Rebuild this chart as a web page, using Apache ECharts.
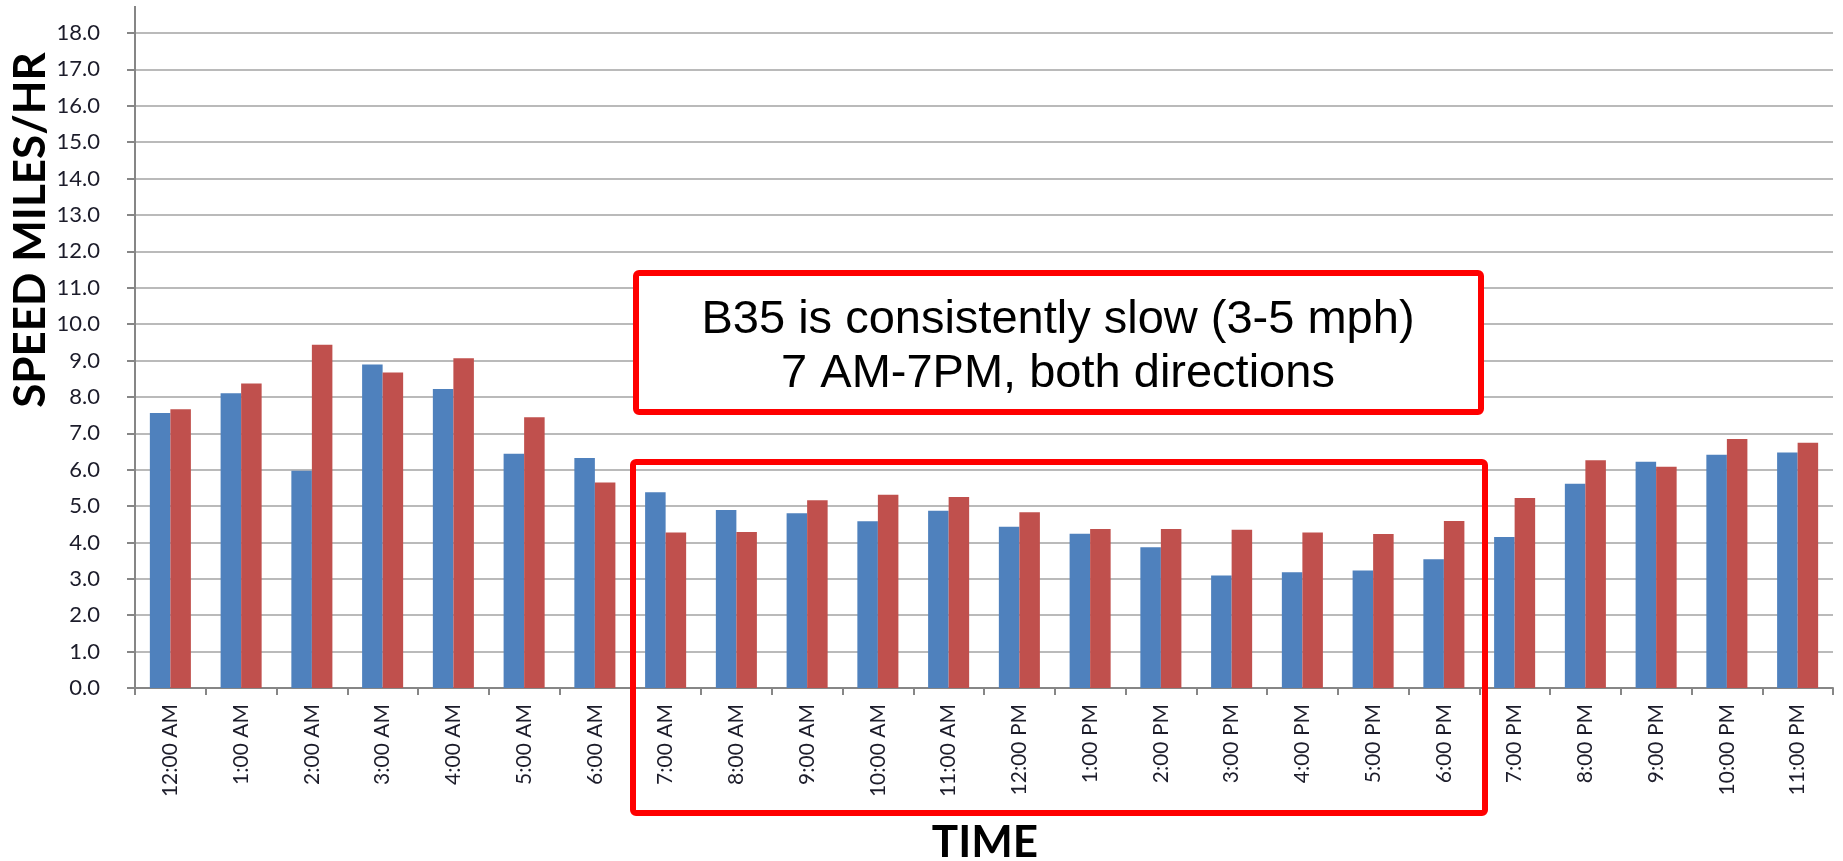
<!DOCTYPE html>
<html>
<head>
<meta charset="utf-8">
<script src="https://cdn.jsdelivr.net/npm/echarts@6/dist/echarts.min.js"></script>
<style>
html,body{margin:0;padding:0;background:#fff;}
#chart{width:1843px;height:861px;}
</style>
</head>
<body>
<div id="chart"></div>
<script>
var categories = ['12:00 AM','1:00 AM','2:00 AM','3:00 AM','4:00 AM','5:00 AM','6:00 AM','7:00 AM','8:00 AM','9:00 AM','10:00 AM','11:00 AM','12:00 PM','1:00 PM','2:00 PM','3:00 PM','4:00 PM','5:00 PM','6:00 PM','7:00 PM','8:00 PM','9:00 PM','10:00 PM','11:00 PM'];
var blueSpeeds = [7.56,8.10,5.97,8.89,8.22,6.44,6.32,5.38,4.89,4.80,4.58,4.87,4.43,4.24,3.87,3.09,3.18,3.23,3.54,4.15,5.61,6.22,6.41,6.47];
var redSpeeds  = [7.66,8.37,9.43,8.67,9.06,7.44,5.65,4.27,4.29,5.16,5.31,5.25,4.83,4.37,4.37,4.35,4.27,4.23,4.59,5.22,6.26,6.08,6.84,6.74];
var yTicks = {min:0, max:18, interval:1};
var yTitle = 'SPEED MILES/HR';
var xTitle = 'TIME';
var noteLines = ['B35 is consistently slow (3-5 mph)','7 AM-7PM, both directions'];

var chart = echarts.init(document.getElementById('chart'), null, {renderer:'canvas'});
var labelFont = 'Lato, "Open Sans", sans-serif';
var noteFont = '47px "Liberation Sans", Arial, sans-serif';
chart.setOption({
  animation:false,
  backgroundColor:'#ffffff',
  grid:{left:135, right:10, top:33, bottom:173, containLabel:false},
  xAxis:{
    type:'category',
    data:categories,
    boundaryGap:true,
    axisLine:{show:true, lineStyle:{color:'#868686', width:2}},
    axisTick:{show:true, length:7, alignWithLabel:false, lineStyle:{color:'#868686', width:2}},
    axisLabel:{rotate:90, margin:16, fontFamily:labelFont, fontSize:21, color:'#1c1c2a', interval:0},
    splitLine:{show:false}
  },
  yAxis:{
    type:'value',
    min:yTicks.min, max:yTicks.max, interval:yTicks.interval,
    axisLine:{show:true, lineStyle:{color:'#868686', width:2}},
    axisTick:{show:true, length:8, lineStyle:{color:'#868686', width:2}},
    axisLabel:{margin:35, fontFamily:labelFont, fontSize:22, color:'#1c1c2a', formatter:function(v){return v.toFixed(1);}},
    splitLine:{show:true, lineStyle:{color:'#a3a3a3', width:1.6}}
  },
  series:[
    {type:'bar', name:'Direction 1', data:blueSpeeds, itemStyle:{color:'#4F81BD'}, barGap:'0%', barCategoryGap:'42%'},
    {type:'bar', name:'Direction 2', data:redSpeeds, itemStyle:{color:'#C0504D'}, barGap:'0%', barCategoryGap:'42%'}
  ],
  graphic:[
    {type:'line', shape:{x1:135, y1:6, x2:135, y2:34}, style:{stroke:'#868686', lineWidth:2}, z:10},
    {type:'text', x:31, y:230, rotation:Math.PI/2, style:{text:yTitle, font:'bold 44px Lato, "Open Sans", sans-serif', fill:'#000', align:'center', verticalAlign:'middle'}, z:21},
    {type:'text', x:985, y:843, style:{text:xTitle, font:'bold 44px Lato, "Open Sans", sans-serif', fill:'#000', align:'center', verticalAlign:'middle'}, z:21},
    {type:'rect', shape:{x:636, y:273, width:845, height:139, r:3}, style:{fill:'#ffffff', stroke:'#ff0000', lineWidth:6}, z:20},
    {type:'text', x:1058, y:320, style:{text:noteLines[0], font:noteFont, fill:'#000', align:'center', verticalAlign:'middle'}, z:21},
    {type:'text', x:1058, y:374, style:{text:noteLines[1], font:noteFont, fill:'#000', align:'center', verticalAlign:'middle'}, z:21},
    {type:'rect', shape:{x:633, y:462, width:852, height:351, r:3}, style:{fill:'none', stroke:'#ff0000', lineWidth:6}, z:20}
  ]
});
</script>
</body>
</html>
